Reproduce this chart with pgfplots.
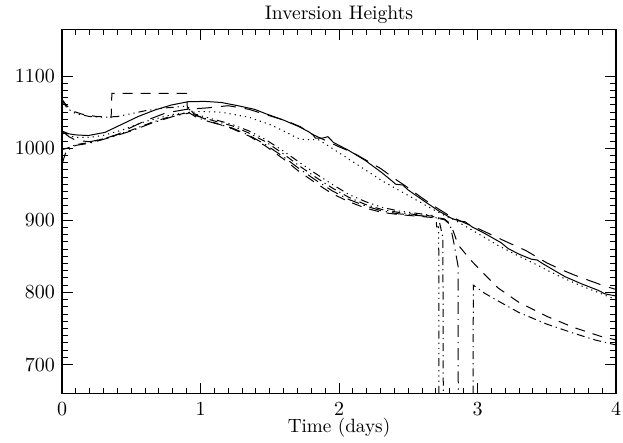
\documentclass[border=0pt]{standalone}
\usepackage{pgfplots}
\pgfplotsset{compat=1.18}
\begin{document}
\begin{tikzpicture}
\begin{axis}[
  scale only axis, width=277pt, height=182pt,
  xmin=0, xmax=4, ymin=660, ymax=1165,
  xtick={0,1,2,3,4}, ytick={700,800,900,1000,1100},
  minor x tick num=9, minor y tick num=9,
  tick align=inside,
  major tick length=5.3pt, minor tick length=2.8pt,
  every tick/.style={black, line width=0.5pt},
  axis line style={line width=0.6pt},
  /pgf/number format/1000 sep={},
  /pgf/number format/assume math mode=true,
  tick label style={font=\fontsize{10}{12}\selectfont},
  xticklabel style={anchor=base, yshift=-10.85pt},
  title={Inversion Heights},
  every axis title shift=0pt,
  title style={font=\fontsize{9.8}{12}\selectfont, at={(axis description cs:0.5,1)}, anchor=base, yshift=5.15pt},
  xlabel={Time (days)},
  xlabel style={font=\fontsize{9.6}{12}\selectfont, at={(axis description cs:0.5,0)}, anchor=base, yshift=-19.6pt},
  every axis plot/.append style={black, line width=0.5pt},
]
\coordinate (sw) at (rel axis cs:0,0);
\coordinate (ne) at (rel axis cs:1,1);
% solid
\addplot[solid] coordinates {
(0,1024)(0.05,1020)(0.1,1018.5)(0.19,1017.6)(0.31,1022)(0.43,1033)(0.55,1044)(0.67,1053)(0.79,1060)(0.91,1064.5)(1.03,1065)(1.15,1063.5)(1.27,1059)(1.39,1054)(1.47,1048)(1.6,1039)(1.71,1030)(1.78,1023)(1.81,1019)(1.83,1014)(1.88,1014)(1.92,1016)(1.96,1008)(2.07,997)(2.19,983)(2.31,966)(2.38,955)(2.41,950)(2.46,949)(2.50,942)(2.62,926)(2.72,913)(2.81,903)(2.87,899)(2.91,898)(2.96,891)(3.05,882)(3.17,869)(3.22,861)(3.30,853)(3.39,846)(3.43,845)(3.47,840)(3.55,831)(3.63,822)(3.75,812)(3.87,803)(3.92,798)(4.0,795)
};
% long dash
\addplot[dash pattern=on 7.5pt off 4.5pt] coordinates {
(0,1024)(0.05,1016)(0.1,1011)(0.2,1009)(0.3,1013)(0.4,1019)(0.5,1029)(0.6,1038)(0.75,1049)(0.9,1054)(1.05,1056)(1.2,1059)(1.35,1054)(1.5,1045)(1.62,1038)(1.72,1030)(1.8,1020)(2.0,1002)(2.1,994)(2.2,983)(2.3,972)(2.4,958)(2.5,945)(2.6,931)(2.7,918)(2.8,906)(2.9,897)(3.0,889)(3.1,880)(3.2,871)(3.35,858)(3.5,841)(3.6,832)(3.7,824)(3.8,817)(3.9,810)(4.0,804)
};
% dotted
\addplot[dash pattern=on 0.6pt off 2pt] coordinates {
(0,1020)(0.1,1015)(0.2,1015)(0.3,1018)(0.43,1025)(0.6,1037)(0.8,1047)(1.0,1051)(1.15,1050)(1.35,1043)(1.5,1033)(1.6,1024)(1.7,1014)(1.75,1012)(1.85,1012)(1.95,1000)(2.07,985)(2.19,970)(2.31,955)(2.43,942)(2.55,929)(2.67,916)(2.76,907)(2.84,900)(3.0,882)(3.15,865)(3.27,853)(3.39,842)(3.51,830)(3.63,819)(3.75,809)(3.87,800)(4.0,790)
};
% dash-dot (low start, returns at 2.97)
\addplot[dash pattern=on 4pt off 2pt on 0.6pt off 2pt] coordinates {
(0,998)(0.05,1001)(0.1,1005)(0.2,1008)(0.35,1016)(0.5,1025)(0.65,1036)(0.8,1045)(0.92,1050)(0.97,1045)(1.06,1040)(1.23,1031)(1.35,1021)(1.47,1009)(1.6,992)(1.71,976)(1.83,960)(1.95,945)(2.07,932)(2.19,922)(2.31,915)(2.43,911)(2.55,908)(2.67,906)(2.72,902)(2.75,876)(2.755,500)(2.965,500)(2.97,810)(3.05,799)(3.15,788)(3.3,772)(3.5,756)(3.7,743)(3.85,734)(4.0,727)
};
% dashed (top start)
\addplot[dash pattern=on 5pt off 4pt] coordinates {
(0,1068)(0.03,1060)(0.07,1052)(0.15,1047)(0.25,1044)(0.355,1043)(0.36,1076)(0.6,1076)(0.9,1076)(0.905,1056)(0.97,1046)(1.06,1038)(1.23,1027)(1.35,1017)(1.47,1003)(1.6,985)(1.71,968)(1.83,952)(1.95,937)(2.07,926)(2.19,917)(2.31,911)(2.43,908)(2.55,906)(2.67,904)(2.76,901)(2.81,893)(2.86,866)(2.95,845)(3.05,825)(3.15,806)(3.3,786)(3.51,766)(3.7,751)(3.89,739)(4.0,734)
};
% dash-dot-dot-dot
\addplot[dash pattern=on 4pt off 2pt on 0.6pt off 2pt on 0.6pt off 2pt on 0.6pt off 2pt] coordinates {
(0,1066)(0.04,1055)(0.1,1048)(0.2,1044)(0.3,1043)(0.4,1044)(0.5,1048)(0.6,1052)(0.75,1056)(0.88,1058)(0.92,1056)(0.95,1048)(1.06,1042)(1.23,1033)(1.35,1024)(1.47,1012)(1.6,996)(1.71,981)(1.83,965)(1.95,950)(2.07,936)(2.19,926)(2.31,918)(2.43,913)(2.55,910)(2.67,907)(2.70,905)(2.705,891)(2.72,891)(2.722,500)(4,500)
};
% long dash-dot (steep drop near 2.86)
\addplot[dash pattern=on 6pt off 2.5pt on 0.6pt off 2.5pt] coordinates {
(0,978)(0.03,996)(0.1,1004)(0.2,1007)(0.35,1015)(0.5,1024)(0.65,1035)(0.8,1044)(0.92,1049)(0.97,1043)(1.06,1037)(1.23,1028)(1.35,1018)(1.47,1005)(1.6,988)(1.71,972)(1.83,956)(1.95,941)(2.07,929)(2.19,920)(2.31,913)(2.43,909)(2.55,907)(2.67,905)(2.76,902)(2.80,896)(2.83,868)(2.86,836)(2.862,500)(4,500)
};
\end{axis}
\pgfresetboundingbox
\path ([shift={(-31pt,-24.35pt)}]sw) rectangle ([shift={(3.5pt,14.65pt)}]ne);
\end{tikzpicture}
\end{document}
